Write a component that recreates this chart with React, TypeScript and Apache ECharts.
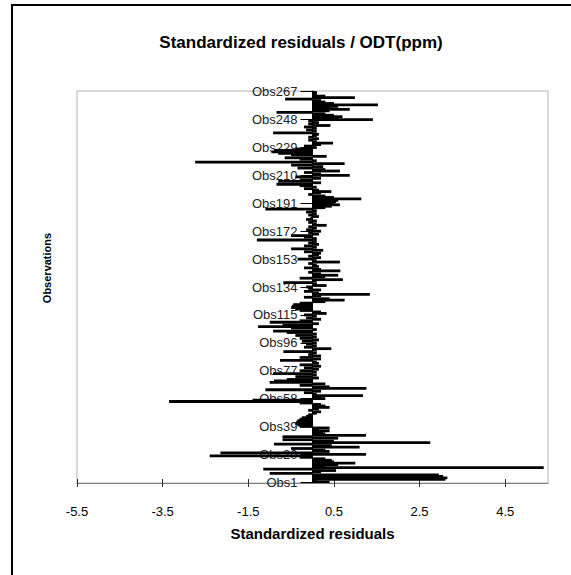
import React, { useEffect, useRef } from "react";
import * as echarts from "echarts";

// Standardized residuals, Obs1 .. Obs267
const residualsObs1to90 = [
  0.4, 0.1, 3.1, 3.15, 3.05, 2.95, -1.0, 0.2, 0.55, -1.15,
  5.4, 0.3, 0.6, 1.0, 0.5, 0.45, 0.3, -0.3, -2.4, 1.25,
  -2.15, 0.4, 0.3, -0.5, 1.1, 0.45, -0.9, 2.75, 0.5, -0.7,
  0.6, -0.7, 1.25, 0.3, 0.25, 0.4, 0.15, 0.4, -0.3, -0.35,
  -0.4, -0.38, -0.35, -0.3, -0.25, -0.15, -0.1, 0.1, 0.2, -0.1,
  0.15, 0.4, 0.3, 0.2, -0.3, -3.35, -1.4, 0.3, 0.2, 1.18,
  0.1, -0.2, 0.2, -1.1, 1.26, 0.4, -0.3, 0.3, -1.0, -0.9,
  -0.6, 0.15, -0.4, 0.1, -0.92, 0.1, -0.3, 0.15, -0.2, 0.2,
  -0.3, 0.15, 0.1, -0.76, 0.2, -0.3, 0.2, -0.1, 0.1, -0.68,
];
const residualsObs91to180 = [
  0.1, 0.44, -0.2, 0.1, -0.15, 0.1, -0.25, 0.15, -0.3, 0.1,
  -0.4, 0.1, -0.6, -0.92, 0.1, -0.5, -1.27, -0.7, 0.15, -1.0,
  -0.3, 0.2, -0.15, 0.1, -0.2, 0.33, 0.2, -0.3, -0.4, -0.5,
  -0.48, -0.45, -0.3, 0.3, 0.75, 0.4, -0.2, 0.2, 1.34, 0.15,
  -0.2, 0.2, -0.1, -0.15, 0.33, 0.1, -0.68, 0.1, 0.71, -0.3,
  0.3, 0.6, 0.2, -0.1, 0.65, 0.2, -0.2, 0.15, 0.1, -0.1,
  0.64, 0.1, -0.35, 0.2, -0.1, 0.15, 0.2, -0.2, 0.25, -0.5,
  0.1, -0.2, 0.15, -0.1, 0.1, -1.3, 0.1, -0.2, -0.5, 0.15,
  -0.1, 0.2, -0.15, 0.1, -0.1, 0.33, 0.1, -0.1, 0.1, -0.15,
];
const residualsObs181to267 = [
  -0.05, 0.15, -0.1, 0.1, -0.15, 0.1, -1.1, 0.3, 0.45, 0.64,
  0.5, 0.55, 0.6, 1.14, 0.5, 0.3, -0.1, 0.2, 0.44, 0.15,
  -0.2, 0.1, -0.3, -0.84, 0.2, -0.8, -0.3, 0.2, -0.4, 0.87,
  0.2, -0.2, 0.64, 0.3, -0.35, 0.25, -0.5, 0.75, -2.74, 0.1,
  -0.3, -0.65, 0.33, -0.5, -0.8, -0.96, -0.9, -0.4, 0.1, -0.2,
  0.2, 0.48, 0.1, -0.1, 0.15, -0.1, 0.1, 0.15, -0.92, 0.1,
  -0.15, 0.1, -0.2, 0.42, -0.1, 0.15, -0.1, 1.41, 0.6, 0.7,
  0.5, 0.3, -0.84, 0.4, 0.87, 0.4, 0.6, 1.53, 0.5, 0.3,
  0.2, -0.64, 0.99, 0.3, 0.1, 0.1, 0.1,
];
const residuals = [...residualsObs1to90, ...residualsObs91to180, ...residualsObs181to267];
const observations = residuals.map((_, i) => `Obs${i + 1}`);
const xTickValues = [-5.5, -3.5, -1.5, 0.5, 2.5, 4.5];
const xMin = -5.5;
const xMax = 5.5;

const chartTitle = "Standardized residuals / ODT(ppm)";
const xAxisTitle = "Standardized residuals";
const yAxisTitle = "Observations";

const FONT = '"Liberation Sans", Arial, sans-serif';

const GRID_LEFT = 77;
const GRID_RIGHT = 23;
const WIDTH = 571;

export default function App() {
  const ref = useRef<HTMLDivElement>(null);
  useEffect(() => {
    if (!ref.current) return;
    const chart = echarts.init(ref.current, undefined, { renderer: "svg" });
    // the category axis crosses the value axis at 0 (moved inward with a negative offset)
    const plotW = WIDTH - GRID_LEFT - GRID_RIGHT;
    const zeroOffset = -((0 - xMin) / (xMax - xMin)) * plotW;
    chart.setOption({
      animation: false,
      backgroundColor: "#fff",
      grid: {
        left: GRID_LEFT,
        top: 91,
        right: GRID_RIGHT,
        bottom: 92,
        show: true,
        borderColor: "#b3b3b3",
        borderWidth: 1,
        backgroundColor: "transparent",
      },
      xAxis: [
        {
          type: "value",
          min: xMin,
          max: xMax,
          position: "bottom",
          axisLine: { show: true, onZero: false, lineStyle: { color: "#808080", width: 1 } },
          axisTick: { show: true, length: 4, customValues: xTickValues, lineStyle: { color: "#333" } },
          axisLabel: {
            customValues: xTickValues,
            margin: 22,
            fontSize: 13,
            color: "#000",
            fontFamily: FONT,
          },
          splitLine: { show: false },
          name: xAxisTitle,
          nameLocation: "middle",
          nameGap: 43,
          nameTextStyle: { fontSize: 15, fontWeight: "bold", color: "#000", fontFamily: FONT, verticalAlign: "top" },
        },
        {
          type: "value",
          min: xMin,
          max: xMax,
          position: "bottom",
          axisLine: { show: false, onZero: false },
          axisTick: { show: true, inside: true, length: 4, customValues: xTickValues, lineStyle: { color: "#333" } },
          axisLabel: { show: false },
          splitLine: { show: false },
        },
      ],
      yAxis: {
        type: "category",
        data: observations,
        position: "left",
        offset: zeroOffset,
        axisLine: { show: true, onZero: false, lineStyle: { color: "#000", width: 1 } },
        axisTick: { show: true, interval: 18, alignWithLabel: true, length: 12, lineStyle: { color: "#000" } },
        axisLabel: { interval: 18, margin: 15, fontSize: 13, color: "#222", fontFamily: FONT },
        splitLine: { show: false },
      },
      series: [
        {
          type: "bar",
          data: residuals,
          xAxisIndex: 0,
          barWidth: 2.8,
          itemStyle: { color: "#000" },
        },
      ],
      graphic: [
        {
          type: "rect",
          silent: true,
          shape: { x: 12, y: 5, width: 640, height: 640 },
          style: { fill: "none", stroke: "#000", lineWidth: 2 },
        },
        {
          type: "text",
          x: 301,
          y: 42,
          style: {
            text: chartTitle,
            font: `bold 17px ${FONT}`,
            fill: "#000",
            align: "center",
            verticalAlign: "middle",
          },
        },
        {
          type: "text",
          x: 47,
          y: 268,
          rotation: Math.PI / 2,
          style: {
            text: yAxisTitle,
            font: `bold 11px ${FONT}`,
            fill: "#000",
            align: "center",
            verticalAlign: "middle",
          },
        },
      ],
    });
    return () => chart.dispose();
  }, []);
  return (
    <div
      ref={ref}
      style={{ position: "absolute", left: 0, top: 0, width: 571, height: 575 }}
    />
  );
}
